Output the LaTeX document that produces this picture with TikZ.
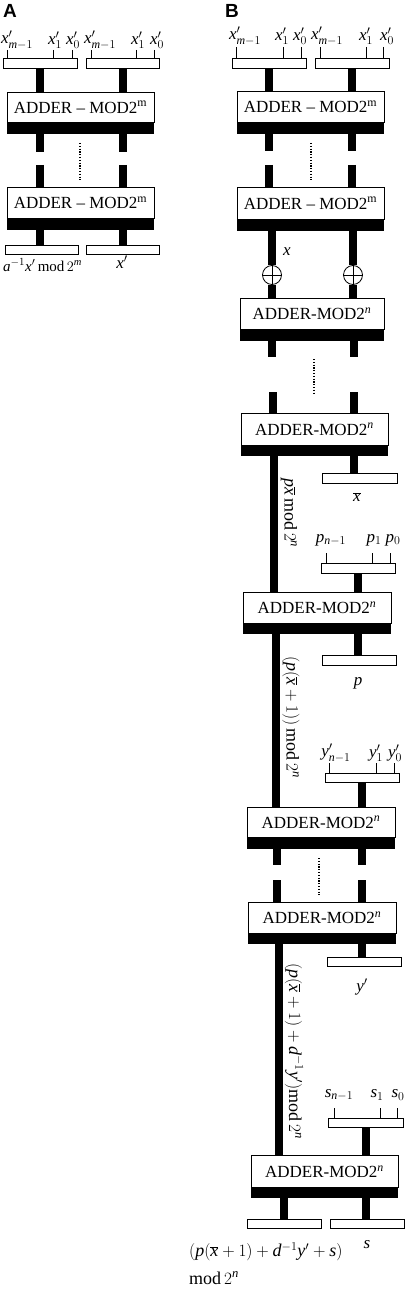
\documentclass[tikz,border=0pt]{standalone}
\usepackage{fontspec}
\setmainfont{Liberation Serif}
\newfontfamily\panelfont{Liberation Sans}
\newcommand\mv[1]{\mathit{#1}}
\newcommand\xb{\overline{\mv{x}}}
\begin{document}
\begin{tikzpicture}[x=1pt,y=-1pt,
  reg/.style={draw, line width=0.7pt, fill=white, inner sep=0pt, minimum height=10pt, minimum width=74pt, anchor=north},
  addbox/.style={draw, line width=0.8pt, fill=white, inner sep=0pt, minimum height=31pt, minimum width=147pt, anchor=north, font=\fontsize{17}{17}\selectfont},
  addbar/.style={fill=black, inner sep=0pt, minimum height=11pt, minimum width=147pt, anchor=north},
  wire/.style={line width=8pt},
  tickline/.style={line width=0.7pt},
  lbl/.style={font=\fontsize{17}{17}\selectfont, inner sep=0pt},
  rlbl/.style={font=\fontsize{18}{18}\selectfont, inner sep=0pt, rotate=-90},
  dotline/.style={line width=1.3pt, dash pattern=on 1.2pt off 1.6pt},
  panel/.style={font=\panelfont\bfseries\fontsize{19}{19}\selectfont, inner sep=0pt},
  oplusnode/.style={draw, circle, minimum size=19pt, inner sep=0pt, line width=0.8pt, fill=white,
    path picture={\draw[line width=0.8pt] (path picture bounding box.north) -- (path picture bounding box.south)
      (path picture bounding box.west) -- (path picture bounding box.east);}}
]
\useasboundingbox (0,0) rectangle (408,1292);

% ================= Panel A =================
\node[panel] (LA) at (10,11) {A};

\node[reg] (ra1) at (40,58) {};
\node[reg, minimum width=73pt] (ra2) at (122.5,58) {};
\foreach \t in {7,53,72,91,136,154} \draw[tickline] (\t,50) -- (\t,58);
\node[lbl] (la1) at (17,40) {$\mv{x}'_{\mv{m}-1}$};
\node[lbl] (la2) at (55,40) {$\mv{x}'_1$};
\node[lbl] (la3) at (73,40) {$\mv{x}'_0$};
\node[lbl] (la4) at (100,40) {$\mv{x}'_{\mv{m}-1}$};
\node[lbl] (la5) at (138,40) {$\mv{x}'_1$};
\node[lbl] (la6) at (157,40) {$\mv{x}'_0$};

\node[addbox, minimum height=30pt] (aa1) at (80.5,92) {ADDER -- MOD2\textsuperscript{m}};
\node[addbar] (aa1b) at (aa1.south) {};
\draw[wire] (ra1.south) -- (ra1.south |- aa1.north);
\draw[wire] (ra2.south) -- (ra2.south |- aa1.north);

\coordinate (sa1) at (40,152);
\coordinate (sa2) at (122.5,152);
\draw[wire] (aa1b.south -| sa1) -- (sa1);
\draw[wire] (aa1b.south -| sa2) -- (sa2);
\draw[dotline] (80,143) -- (80,180);
\coordinate (ta1) at (40,165);
\coordinate (ta2) at (122.5,165);

\node[addbox] (aa2) at (80.5,187) {ADDER -- MOD2\textsuperscript{m}};
\node[addbar] (aa2b) at (aa2.south) {};
\draw[wire] (ta1) -- (ta1 |- aa2.north);
\draw[wire] (ta2) -- (ta2 |- aa2.north);

\node[reg, minimum width=73pt, minimum height=9pt] (ra3) at (41.5,245) {};
\node[reg, minimum width=73pt, minimum height=9pt] (ra4) at (122.5,245) {};
\draw[wire] (aa2b.south -| sa1) -- (sa1 |- ra3.north);
\draw[wire] (aa2b.south -| sa2) -- (sa2 |- ra4.north);
\node[lbl, font=\fontsize{15}{15}\selectfont, anchor=west] (la7) at (3,265) {$\mv{a}^{-1}\mv{x}'\,\mathrm{mod}\,2^{\mv{m}}$};
\node[lbl] (la8) at (122,262) {$\mv{x}'$};

% ================= Panel B =================
\node[panel] (LB) at (232,11) {B};

\node[reg] (rb1) at (269,58) {};
\node[reg] (rb2) at (352,58) {};
\foreach \t in {236,283,301,320,366,383} \draw[tickline] (\t,47) -- (\t,58);
\node[lbl] (lb1) at (245,36) {$\mv{x}'_{\mv{m}-1}$};
\node[lbl] (lb2) at (282,36) {$\mv{x}'_1$};
\node[lbl] (lb3) at (300,36) {$\mv{x}'_0$};
\node[lbl] (lb4) at (327,36) {$\mv{x}'_{\mv{m}-1}$};
\node[lbl] (lb5) at (366,36) {$\mv{x}'_1$};
\node[lbl] (lb6) at (387,36) {$\mv{x}'_0$};

\node[addbox] (ab1) at (310.5,91) {ADDER -- MOD2\textsuperscript{m}};
\node[addbar] (ab1b) at (ab1.south) {};
\draw[wire] (rb1.south) -- (rb1.south |- ab1.north);
\draw[wire] (rb2.south) -- (rb2.south |- ab1.north);

\coordinate (sb1) at (269,151);
\coordinate (sb2) at (352,151);
\draw[wire] (ab1b.south -| sb1) -- (sb1);
\draw[wire] (ab1b.south -| sb2) -- (sb2);
\draw[dotline] (311,143) -- (311,180);
\coordinate (tb1) at (269,165);
\coordinate (tb2) at (352,165);

\node[addbox, minimum height=32pt] (ab2) at (310.5,187) {ADDER -- MOD2\textsuperscript{m}};
\node[addbar] (ab2b) at (ab2.south) {};
\draw[wire] (tb1) -- (tb1 |- ab2.north);
\draw[wire] (tb2) -- (tb2 |- ab2.north);

\node[oplusnode] (o1) at (272,275) {};
\node[oplusnode] (o2) at (353,275) {};
\node[addbox, minimum width=144pt] (ab3) at (312,298) {ADDER-MOD2\textsuperscript{\itshape n}};
\node[addbar, minimum width=144pt] (ab3b) at (ab3.south) {};
\draw[wire] (ab2b.south -| o1) -- (o1.north);
\draw[wire] (ab2b.south -| o2) -- (o2.north);
\draw[wire] (o1.south) -- (o1.south |- ab3.north);
\draw[wire] (o2.south) -- (o2.south |- ab3.north);
\node[lbl] (lx) at (287,252) {$\mv{x}$};

\coordinate (sc1) at (272,357);
\coordinate (sc2) at (354,357);
\draw[wire] (ab3b.south -| sc1) -- (sc1);
\draw[wire] (ab3b.south -| sc2) -- (sc2);
\draw[dotline] (314,359) -- (314,395);
\coordinate (tc1) at (273,392);
\coordinate (tc2) at (354,392);

\node[addbox, minimum height=32pt] (ab4) at (314.5,413) {ADDER-MOD2\textsuperscript{\itshape n}};
\node[addbar, minimum height=10pt] (ab4b) at (ab4.south) {};
\draw[wire] (tc1) -- (tc1 |- ab4.north);
\draw[wire] (tc2) -- (tc2 |- ab4.north);

\node[reg, minimum width=75pt] (rxb) at (359.5,473) {};
\draw[wire] (ab4b.south -| tc2) -- (tc2 |- rxb.north);
\node[lbl] (lxb) at (357,497) {$\xb$};

% p input
\node[reg] (rp) at (358,563) {};
\foreach \t in {326,372,390} \draw[tickline] (\t,553) -- (\t,563);
\node[lbl] (lp1) at (331,540) {$\mv{p}_{\mv{n}-1}$};
\node[lbl] (lp2) at (374,540) {$\mv{p}_1$};
\node[lbl] (lp3) at (393,540) {$\mv{p}_0$};

\node[addbox, minimum width=148pt] (ab5) at (317,592) {ADDER-MOD2\textsuperscript{\itshape n}};
\node[addbar, minimum width=148pt, minimum height=10pt] (ab5b) at (ab5.south) {};
\coordinate (w1) at (274,0);
\draw[wire] (ab4b.south -| w1) -- (w1 |- ab5.north);
\draw[wire] (rp.south) -- (rp.south |- ab5.north);
\node[rlbl] (lr1) at (289,513) {$\mv{p}\xb\,\mathrm{mod}\,2^{\mv{n}}$};

\node[reg] (rp2) at (359,655) {};
\draw[wire] (ab5b.south -| rp) -- (rp |- rp2.north);
\node[lbl] (lp) at (358,683) {$\mv{p}$};

% y' input
\node[reg, minimum height=9pt] (ry) at (362,773) {};
\foreach \t in {329,376,394} \draw[tickline] (\t,763) -- (\t,773);
\node[lbl] (ly1) at (336,753) {$\mv{y}'_{\mv{n}-1}$};
\node[lbl] (ly2) at (376,753) {$\mv{y}'_1$};
\node[lbl] (ly3) at (395,753) {$\mv{y}'_0$};

\node[addbox, minimum width=148pt, minimum height=30pt] (ab6) at (321,807) {ADDER-MOD2\textsuperscript{\itshape n}};
\node[addbar, minimum width=148pt] (ab6b) at (ab6.south) {};
\coordinate (w2) at (276,0);
\draw[wire] (ab5b.south -| w2) -- (w2 |- ab6.north);
\draw[wire] (ry.south) -- (ry.south |- ab6.north);
\node[rlbl] (lr2) at (291,717) {$(\mv{p}(\xb+1))\,\mathrm{mod}\,2^{\mv{n}}$};

\coordinate (sd1) at (277,865);
\coordinate (sd2) at (362,865);
\draw[wire] (ab6b.south -| sd1) -- (sd1);
\draw[wire] (ab6b.south -| sd2) -- (sd2);
\draw[dotline] (319,858) -- (319,895);
\coordinate (td1) at (277,880);
\coordinate (td2) at (362,880);

\node[addbox, minimum width=148pt] (ab7) at (322,902) {ADDER-MOD2\textsuperscript{\itshape n}};
\node[addbar, minimum width=148pt, minimum height=10pt] (ab7b) at (ab7.south) {};
\draw[wire] (td1) -- (td1 |- ab7.north);
\draw[wire] (td2) -- (td2 |- ab7.north);

\node[reg, minimum height=9pt] (ry2) at (364,957) {};
\draw[wire] (ab7b.south -| td2) -- (td2 |- ry2.north);
\node[lbl] (lyp) at (362,987) {$\mv{y}'$};

% s input
\node[reg, minimum width=75pt, minimum height=9pt] (rs) at (365.5,1118) {};
\foreach \t in {334,380,397} \draw[tickline] (\t,1108) -- (\t,1118);
\node[lbl] (ls1) at (339,1095) {$\mv{s}_{\mv{n}-1}$};
\node[lbl] (ls2) at (377,1095) {$\mv{s}_1$};
\node[lbl] (ls3) at (398,1095) {$\mv{s}_0$};

\node[addbox, minimum height=32pt] (ab8) at (324.5,1155) {ADDER-MOD2\textsuperscript{\itshape n}};
\node[addbar, minimum height=10pt] (ab8b) at (ab8.south) {};
\coordinate (w3) at (279,0);
\draw[wire] (ab7b.south -| w3) -- (w3 |- ab8.north);
\draw[wire] (rs.south) -- (rs.south |- ab8.north);
\node[rlbl] (lr3) at (294,1051) {$(\mv{p}(\xb+1)+\mv{d}^{-1}\mv{y}')\mathrm{mod}\,2^{\mv{n}}$};

\node[reg, minimum height=9pt] (ro1) at (284,1219) {};
\node[reg, minimum height=9pt] (ro2) at (367,1219) {};
\draw[wire] (ab8b.south -| ro1) -- (ro1.north);
\draw[wire] (ab8b.south -| rs) -- (rs |- ro2.north);
\node[font=\fontsize{18}{18}\selectfont, inner sep=0pt, anchor=west] (lo1) at (189,1252)
  {$(\mv{p}(\xb+1)+\mv{d}^{-1}\mv{y}'+\mv{s})$};
\node[font=\fontsize{18}{18}\selectfont, inner sep=0pt, anchor=west] (lo3) at (189,1278)
  {$\mathrm{mod}\,2^{\mv{n}}$};
\node[lbl] (lo2) at (367,1245) {$\mv{s}$};
\end{tikzpicture}
\end{document}
